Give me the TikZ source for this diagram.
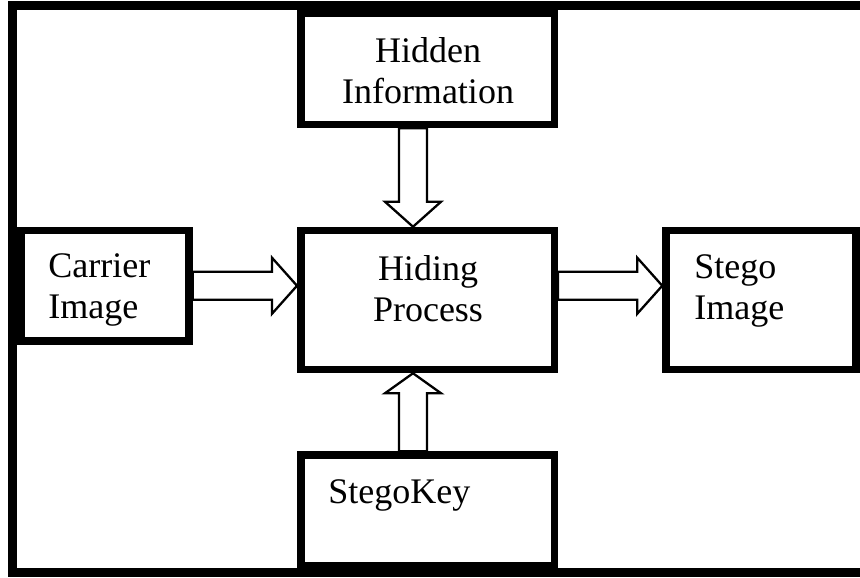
\documentclass[tikz,border=0pt]{standalone}
\usepackage{fontspec}
\setmainfont{Liberation Serif}
\usetikzlibrary{calc}
\begin{document}
\begin{tikzpicture}[x=0.5pt,y=0.5pt,
  box/.style={draw, line width=3.75pt, inner sep=0pt},
  txt/.style={inner sep=0pt, font=\fontsize{18}{20.5}\selectfont},
  hollow/.style={draw, line width=1.15pt, fill=white, line join=miter}]
\useasboundingbox (0,0) rectangle (860,577);
% outer frame
\draw[line width=4.5pt] (12.5,5) rectangle (900,571);
% blocks
\node[box, minimum width=126.75pt, minimum height=55.4pt] (info) at (427.5,508) {};
\node[box, minimum width=126.75pt, minimum height=69.5pt] (hide) at (427.5,277) {};
\node[box, minimum width=84pt, minimum height=55.25pt] (carrier) at (105,291.25) {};
\node[box, minimum width=95pt, minimum height=69.5pt] (stego) at (761,277) {};
\node[box, minimum width=126.75pt, minimum height=55.5pt] (key) at (427.5,66.5) {};
% texts
\node[txt, anchor=north, align=center] (infotxt) at (428,540) {Hidden\\Information};
\node[txt, anchor=north, align=center] (hidetxt) at (428,322) {Hiding\\Process};
\node[txt, anchor=north west, align=left] (carriertxt) at (48,324) {Carrier\\Image};
\node[txt, anchor=north west, align=left] (stegotxt) at (694,323) {Stego\\Image};
\node[txt, anchor=north west] (keytxt) at (328,98) {StegoKey};
% hollow arrows
\draw[hollow] ($(carrier.east)+(0,14)$) -- ($(hide.west |- carrier.east)+(-25,14)$) -- ++(0,14)
  -- (hide.west |- carrier.east) -- ++(-25,-28) -- ++(0,14) -- ($(carrier.east)+(0,-14)$) -- cycle;
\draw[hollow] ($(hide.east |- carrier.east)+(0,14)$) -- ($(stego.west |- carrier.east)+(-25,14)$) -- ++(0,14)
  -- (stego.west |- carrier.east) -- ++(-25,-28) -- ++(0,14) -- ($(hide.east |- carrier.east)+(0,-14)$) -- cycle;
\draw[hollow] ($(info.south)+(-28.5,0)$) -- ($(hide.north)+(-28.5,25)$) -- ++(-14,0)
  -- ($(hide.north)+(-14.5,0)$) -- ++(28,25) -- ++(-14,0) -- ($(info.south)+(-0.5,0)$) -- cycle;
\draw[hollow] ($(key.north)+(-28.5,0)$) -- ($(hide.south)+(-28.5,-20)$) -- ++(-14,0)
  -- ($(hide.south)+(-14.5,0)$) -- ++(28,-20) -- ++(-14,0) -- ($(key.north)+(-0.5,0)$) -- cycle;
\end{tikzpicture}
\end{document}
